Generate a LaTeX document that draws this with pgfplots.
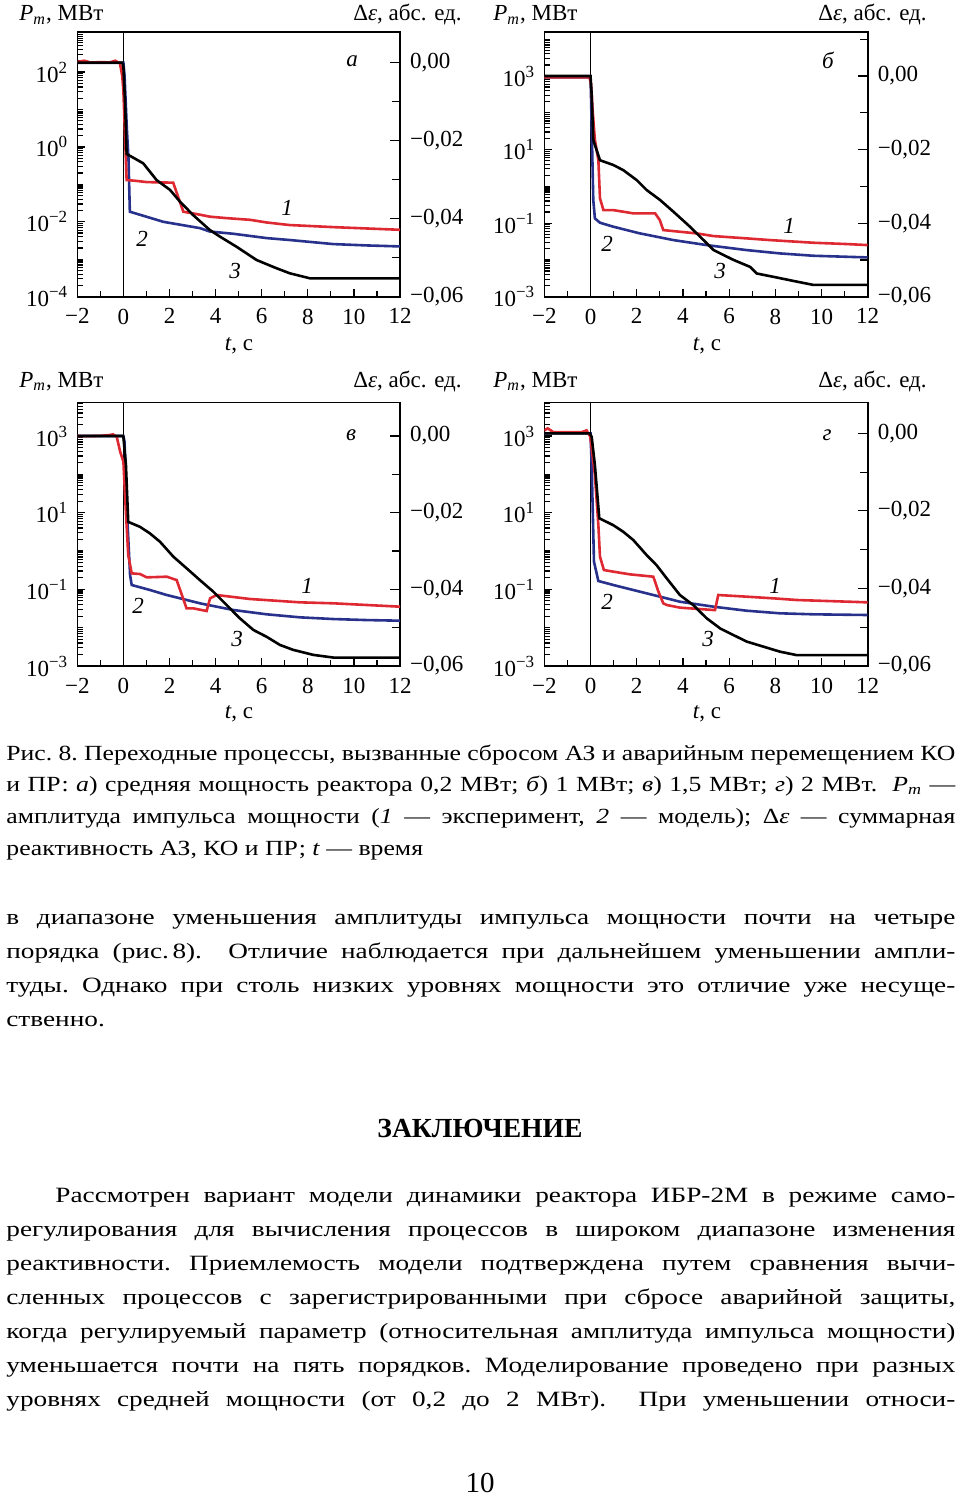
\documentclass[border=0pt]{standalone}
\usepackage{pgfplots}
\pgfplotsset{compat=1.18}
\usepackage{fontspec}
\setmainfont{Liberation Serif}
\newfontfamily\capfont[FakeStretch=1.19]{Liberation Serif}
\newfontfamily\bodyfont[FakeStretch=1.25]{Liberation Serif}
\definecolor{cred}{RGB}{222,40,50}
\definecolor{cblue}{RGB}{40,50,140}

\newcommand{\logminor}{1e-4,2e-4,3e-4,4e-4,5e-4,6e-4,7e-4,8e-4,9e-4,
1e-3,2e-3,3e-3,4e-3,5e-3,6e-3,7e-3,8e-3,9e-3,
1e-2,2e-2,3e-2,4e-2,5e-2,6e-2,7e-2,8e-2,9e-2,
1e-1,2e-1,3e-1,4e-1,5e-1,6e-1,7e-1,8e-1,9e-1,
1,2,3,4,5,6,7,8,9,10,20,30,40,50,60,70,80,90,
100,200,300,400,500,600,700,800,900,
1000,2000,3000,4000,5000,6000,7000,8000,9000,
10000}

\newcommand{\tl}[1]{10\raisebox{0.85ex}{\fontsize{8.5}{9}\selectfont#1}}
\newcommand{\cf}{\fontsize{11.5}{13}\selectfont}
\newcommand{\capf}{\capfont\fontsize{10.8}{12}\selectfont\frenchspacing}
\newcommand{\bodyf}{\bodyfont\fontsize{10.9}{12}\selectfont\frenchspacing}

\pgfplotsset{
  mycommon/.style={scale only axis, xmin=-2, xmax=12,
     tick align=inside,
     tick style={black, line width=0.6pt},
     axis line style={line width=0.8pt},
     tick label style={font=\cf}},
  myleft/.style={mycommon,
     xtick={-2,0,2,4,6,8,10,12},
     xticklabels={−2,0,2,4,6,8,10,12},
     minor xtick={-1,1,3,5,7,9,11},
     xtick pos=bottom, ytick pos=left,
     major tick length=4pt, minor tick length=3pt,
     xticklabel style={yshift=-2.5pt},
     yticklabel style={xshift=-1.5pt}},
  myright/.style={mycommon, xtick=\empty,
     axis line style={draw=none},
     ytick pos=right, yticklabel pos=right,
     scaled y ticks=false,
     ymin=-0.06,
     ytick={-0.06,-0.04,-0.02,0},
     yticklabels={{−0,06},{−0,04},{−0,02},{0,00}},
     minor ytick={-0.05,-0.03,-0.01,0.01},
     major tick length=5pt, minor tick length=4pt,
     yticklabel style={xshift=1.5pt}},
  redl/.style={cred, line width=1.3pt},
  bluel/.style={cblue, line width=1.3pt},
  blackl/.style={black, line width=1.3pt},
}

\begin{document}
\begin{tikzpicture}
\begin{scope}[x=0.5pt,y=-0.5pt]
\useasboundingbox (0,0) rectangle (960,1498);
\end{scope}

% ---------------- panel a ----------------
\begin{axis}[ymode=log, myleft, minor ytick/.expand once=\logminor,
  at={(38.65pt,-148.35pt)}, anchor=south west,
  width=161.35pt, height=132.35pt, ymin=1e-4, ymax=1170,
  ytick={1e-4,1e-2,1,1e2}, yticklabels={\tl{−4},\tl{−2},\tl{0},\tl{2}}]
\addplot[black, line width=0.5pt] coordinates {(0,1e-4) (0,1170)};
\addplot[bluel] coordinates {(-2,177) (0,177) (0.05,80) (0.15,3) (0.22,0.5) (0.28,0.0186)
  (1.73,0.0100) (3.32,0.00678) (3.75,0.0055) (4.77,0.00479) (6.22,0.00367) (7.2,0.00327)
  (9.11,0.00254) (10.55,0.00234) (12,0.0022)};
\addplot[redl] coordinates {(-2,186) (-1.7,200) (-1.4,178) (-1.0,184) (-0.6,180) (-0.35,200)
  (-0.15,170) (-0.05,79) (0.0,31.6) (0.07,2.0) (0.14,0.130) (0.5,0.125) (1.0,0.115) (1.5,0.113)
  (2.16,0.111) (2.6,0.0186) (3.2,0.0160) (3.75,0.0137) (4.48,0.01253)
  (5.49,0.0113) (6.22,0.00959) (7.2,0.0082) (9.11,0.00721) (10.55,0.00664) (12,0.00612)};
\end{axis}
\begin{axis}[myright, at={(38.65pt,-148.35pt)}, anchor=south west,
  width=161.35pt, height=132.35pt, ymax=0.00787]
\addplot[blackl] coordinates {(-2,0) (-0.05,0) (0.0,-0.001) (0.07,-0.01) (0.14,-0.0234)
  (0.86,-0.0258) (1.44,-0.0301) (2.02,-0.0326) (2.45,-0.0356) (3.03,-0.0391) (3.75,-0.0429)
  (4.19,-0.0446) (4.91,-0.0472) (5.78,-0.0506) (6.64,-0.0527) (7.22,-0.054) (8.1,-0.0553)
  (12,-0.0553)};
\end{axis}

% ---------------- panel b ----------------
\begin{axis}[ymode=log, myleft, minor ytick/.expand once=\logminor,
  at={(272.15pt,-148.35pt)}, anchor=south west,
  width=161.7pt, height=132.2pt, ymin=1e-3, ymax=15420,
  ytick={1e-3,1e-1,1e1,1e3}, yticklabels={\tl{−3},\tl{−1},\tl{1},\tl{3}}]
\addplot[black, line width=0.5pt] coordinates {(0,1e-3) (0,15420)};
\addplot[bluel] coordinates {(-2,920) (0,920) (0.02,316) (0.12,0.424) (0.19,0.1346) (0.41,0.1026)
  (0.99,0.0798) (2.14,0.0526) (3.59,0.0346) (5.03,0.0253) (6.76,0.0185) (8.2,0.01503)
  (9.65,0.01297) (12,0.01169)};
\addplot[redl] coordinates {(-2,920) (-0.05,920) (0.02,631) (0.1,100) (0.19,18.2) (0.34,5.19)
  (0.41,0.471) (0.56,0.226) (0.99,0.226) (1.86,0.184) (2.8,0.184) (3.0,0.121) (3.15,0.0647)
  (3.87,0.0583) (4.6,0.0526) (5.32,0.0445) (6.76,0.0385) (7.77,0.0346) (9.65,0.0293)
  (11.09,0.027) (12,0.0253)};
\end{axis}
\begin{axis}[myright, at={(272.15pt,-148.35pt)}, anchor=south west,
  width=161.7pt, height=132.2pt, ymax=0.01188]
\addplot[blackl] coordinates {(-2,0) (0,0) (0.05,-0.005) (0.12,-0.0174) (0.41,-0.0229)
  (0.99,-0.0242) (1.42,-0.0256) (2.0,-0.0283) (2.43,-0.031) (3.01,-0.0337) (3.59,-0.0369)
  (4.31,-0.041) (4.89,-0.0446) (5.32,-0.0473) (6.19,-0.05) (6.91,-0.0519) (7.2,-0.0537)
  (7.92,-0.0546) (8.93,-0.0559) (9.65,-0.0568) (12,-0.0568)};
\end{axis}

% ---------------- panel c ----------------
\begin{axis}[ymode=log, myleft, minor ytick/.expand once=\logminor,
  at={(38.65pt,-333pt)}, anchor=south west,
  width=161.35pt, height=131.85pt, ymin=1e-3, ymax=7570,
  ytick={1e-3,1e-1,1e1,1e3}, yticklabels={\tl{−3},\tl{−1},\tl{1},\tl{3}}]
\addplot[black, line width=0.5pt] coordinates {(0,1e-3) (0,7570)};
\addplot[bluel] coordinates {(-2,1000) (0,1000) (0.05,700) (0.14,15.8) (0.29,0.237) (0.36,0.1297)
  (1.15,0.0962) (1.88,0.0711) (3.32,0.0432) (4.77,0.0289) (6.22,0.0223) (7.66,0.0186)
  (9.11,0.0168) (10.55,0.0158) (12,0.0152)};
\addplot[redl] coordinates {(-2,1000) (-1.5,990) (-1.0,1010) (-0.6,1060) (-0.45,1104) (-0.29,962)
  (-0.14,390) (0.0,214) (0.1,13) (0.21,0.787) (0.36,0.261) (0.72,0.251) (1.01,0.2056)
  (1.5,0.21) (1.88,0.2138) (2.31,0.175) (2.74,0.0319) (3.03,0.0319) (3.61,0.0272)
  (3.76,0.0582) (4.05,0.0711) (5.49,0.056) (7.66,0.0458) (9.11,0.0432) (12,0.0353)};
\end{axis}
\begin{axis}[myright, at={(38.65pt,-333pt)}, anchor=south west,
  width=161.35pt, height=131.85pt, ymax=0.00879]
\addplot[blackl] coordinates {(-2,0) (-0.02,0) (0.0,-0.0002) (0.11,-0.0076) (0.21,-0.0224)
  (0.72,-0.0237) (1.15,-0.0254) (1.59,-0.0276) (2.17,-0.0315) (2.74,-0.0345) (3.32,-0.0376)
  (3.9,-0.0406) (4.48,-0.0441) (5.06,-0.0476) (5.64,-0.0506) (6.22,-0.0524) (6.79,-0.0545)
  (7.37,-0.0558) (8.24,-0.0571) (9.11,-0.0578) (12,-0.0578)};
\end{axis}

% ---------------- panel d ----------------
\begin{axis}[ymode=log, myleft, minor ytick/.expand once=\logminor,
  at={(272.15pt,-333pt)}, anchor=south west,
  width=161.7pt, height=131.85pt, ymin=1e-3, ymax=7570,
  ytick={1e-3,1e-1,1e1,1e3}, yticklabels={\tl{−3},\tl{−1},\tl{1},\tl{3}}]
\addplot[black, line width=0.5pt] coordinates {(0,1e-3) (0,7570)};
\addplot[bluel] coordinates {(-2,1175) (0,1175) (0.05,175) (0.15,0.527) (0.34,0.165) (0.99,0.1297)
  (2.43,0.0787) (3.87,0.0476) (5.32,0.0353) (6.76,0.0277) (8.2,0.0237) (9.65,0.0223) (12,0.0214)};
\addplot[redl] coordinates {(-2,1400) (-1.85,1585) (-1.6,1250) (-1.0,1250) (-0.4,1250) (-0.17,1400)
  (-0.01,962) (0.19,96.2) (0.34,4.76) (0.41,0.711) (0.58,0.319) (0.99,0.289) (1.71,0.246)
  (2.72,0.2138) (2.94,0.0869) (3.15,0.0432) (3.3,0.039) (3.87,0.0333) (5.32,0.0289)
  (5.39,0.0289) (5.53,0.0711) (6.76,0.0644) (7.92,0.0582) (8.93,0.0527) (12,0.0458)};
\end{axis}
\begin{axis}[myright, at={(272.15pt,-333pt)}, anchor=south west,
  width=161.7pt, height=131.85pt, ymax=0.0080]
\addplot[blackl] coordinates {(-2,0) (-0.03,0) (0.05,-0.0009) (0.19,-0.0082) (0.38,-0.0219)
  (0.99,-0.0237) (1.42,-0.0254) (1.85,-0.0275) (2.43,-0.0314) (2.86,-0.034) (3.3,-0.0374)
  (3.87,-0.0417) (4.45,-0.0443) (5.03,-0.0477) (5.61,-0.0503) (6.18,-0.052) (6.76,-0.0537)
  (7.48,-0.055) (8.2,-0.0563) (8.93,-0.0572) (12,-0.0572)};
\end{axis}

% ---------------- texts ----------------
\begin{scope}[x=0.5pt,y=-0.5pt]
\foreach \xa/\xb/\yy in {19/462/21, 493/927/21, 19/462/387, 493/927/387}{
  \node[anchor=base west, inner sep=0, font=\cf] at (\xa,\yy) {\textit{P}\textsubscript{\textit{m}}, МВт};
  \node[anchor=base east, inner sep=0, font=\cf] at (\xb,\yy) {Δ\textit{ε}, абс. ед.};
}
\foreach \xx/\yy in {239/350, 707/350, 239/718, 707/718}{
  \node[anchor=base, inner sep=0, font=\cf] at (\xx,\yy) {\textit{t}, с};
}
% curve numbers
\node[font=\cf\itshape] at (287,208) {1};
\node[font=\cf\itshape] at (142,239) {2};
\node[font=\cf\itshape] at (235,271) {3};
\node[font=\cf\itshape] at (352,61) {а};
\node[font=\cf\itshape] at (789,226) {1};
\node[font=\cf\itshape] at (607,244) {2};
\node[font=\cf\itshape] at (720,271) {3};
\node[font=\cf\itshape] at (828,60) {б};
\node[font=\cf\itshape] at (307,586) {1};
\node[font=\cf\itshape] at (138,606) {2};
\node[font=\cf\itshape] at (237,639) {3};
\node[font=\cf\itshape] at (351,435) {в};
\node[font=\cf\itshape] at (775,586) {1};
\node[font=\cf\itshape] at (607,602) {2};
\node[font=\cf\itshape] at (708,639) {3};
\node[font=\cf\itshape] at (827,435) {г};

% caption
\node[anchor=base west, inner sep=0, font=\capf] at (6,760) {\makebox[474.5pt][s]{Рис. 8. Переходные процессы, вызванные сбросом АЗ и аварийным перемещением КО}};
\node[anchor=base west, inner sep=0, font=\capf] at (6,791) {\makebox[474.5pt][s]{и ПР: \textit{а}) средняя мощность реактора 0,2 МВт; \textit{б}) 1 МВт; \textit{в}) 1,5 МВт; \textit{г}) 2 МВт.\ \ \textit{P}\textsubscript{\textit{m}} —}};
\node[anchor=base west, inner sep=0, font=\capf] at (6,823) {\makebox[474.5pt][s]{амплитуда импульса мощности (\textit{1} — эксперимент, \textit{2} — модель); Δ\textit{ε} — суммарная}};
\node[anchor=base west, inner sep=0, font=\capf] at (6,855) {реактивность АЗ, КО и ПР; \textit{t} — время};

% body
\node[anchor=base west, inner sep=0, font=\bodyf] at (6,924) {\makebox[474.5pt][s]{в диапазоне уменьшения амплитуды импульса мощности почти на четыре}};
\node[anchor=base west, inner sep=0, font=\bodyf] at (6,958) {\makebox[474.5pt][s]{порядка (рис.\,8).\ \ Отличие наблюдается при дальнейшем уменьшении ампли-}};
\node[anchor=base west, inner sep=0, font=\bodyf] at (6,992) {\makebox[474.5pt][s]{туды. Однако при столь низких уровнях мощности это отличие уже несуще-}};
\node[anchor=base west, inner sep=0, font=\bodyf] at (6,1026) {ственно.};

\node[anchor=base, inner sep=0, font=\bfseries\fontsize{13.8}{15}\selectfont] at (480,1137) {ЗАКЛЮЧЕНИЕ};

\node[anchor=base west, inner sep=0, font=\bodyf] at (55,1202) {\makebox[450pt][s]{Рассмотрен вариант модели динамики реактора ИБР-2М в режиме само-}};
\node[anchor=base west, inner sep=0, font=\bodyf] at (6,1236) {\makebox[474.5pt][s]{регулирования для вычисления процессов в широком диапазоне изменения}};
\node[anchor=base west, inner sep=0, font=\bodyf] at (6,1270) {\makebox[474.5pt][s]{реактивности. Приемлемость модели подтверждена путем сравнения вычи-}};
\node[anchor=base west, inner sep=0, font=\bodyf] at (6,1304) {\makebox[474.5pt][s]{сленных процессов с зарегистрированными при сбросе аварийной защиты,}};
\node[anchor=base west, inner sep=0, font=\bodyf] at (6,1338) {\makebox[474.5pt][s]{когда регулируемый параметр (относительная амплитуда импульса мощности)}};
\node[anchor=base west, inner sep=0, font=\bodyf] at (6,1372) {\makebox[474.5pt][s]{уменьшается почти на пять порядков. Моделирование проведено при разных}};
\node[anchor=base west, inner sep=0, font=\bodyf] at (6,1406) {\makebox[474.5pt][s]{уровнях средней мощности (от 0,2 до 2 МВт).\ \ При уменьшении относи-}};

\node[anchor=base, inner sep=0, font=\fontsize{14.5}{15}\selectfont] at (480,1492) {10};
\end{scope}
\end{tikzpicture}
\end{document}
